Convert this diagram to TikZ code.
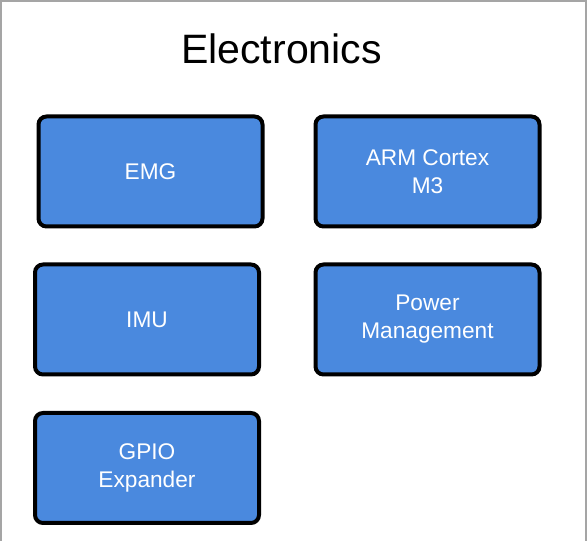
\documentclass[tikz,border=0pt]{standalone}
\usepackage{fontspec}
\setmainfont{Liberation Sans}
\definecolor{blockblue}{RGB}{74,137,222}
\definecolor{framegray}{RGB}{165,165,165}
\begin{document}
\begin{tikzpicture}[x=0.75pt,y=-0.75pt,
  block/.style={draw=black,line width=3pt,fill=blockblue,rounded corners=6pt,
    minimum width=168pt,minimum height=82.5pt,inner sep=0pt,
    text=white,align=center,font=\fontsize{17}{21}\selectfont},
  heading/.style={font=\fontsize{30.8}{36}\selectfont,inner sep=0pt}]
  % page frame, open at the bottom
  \useasboundingbox (0,0) rectangle (587,541);
  \draw[framegray,line width=1.5pt] (1,541) -- (1,1) -- (586,1) -- (586,541);
  % title
  \node[heading] (title) at (281.5,48.5) {Electronics};
  % component blocks
  \node[block] (emg)   at (150.5,171.5) {EMG};
  \node[block] (arm)   at (427.5,171.5) {ARM Cortex\\M3};
  \node[block] (imu)   at (147,319.5)   {IMU};
  \node[block] (power) at (427.5,319.5) {Power\\Management};
  \node[block] (gpio)  at (147,468)     {GPIO\\Expander};
\end{tikzpicture}
\end{document}
